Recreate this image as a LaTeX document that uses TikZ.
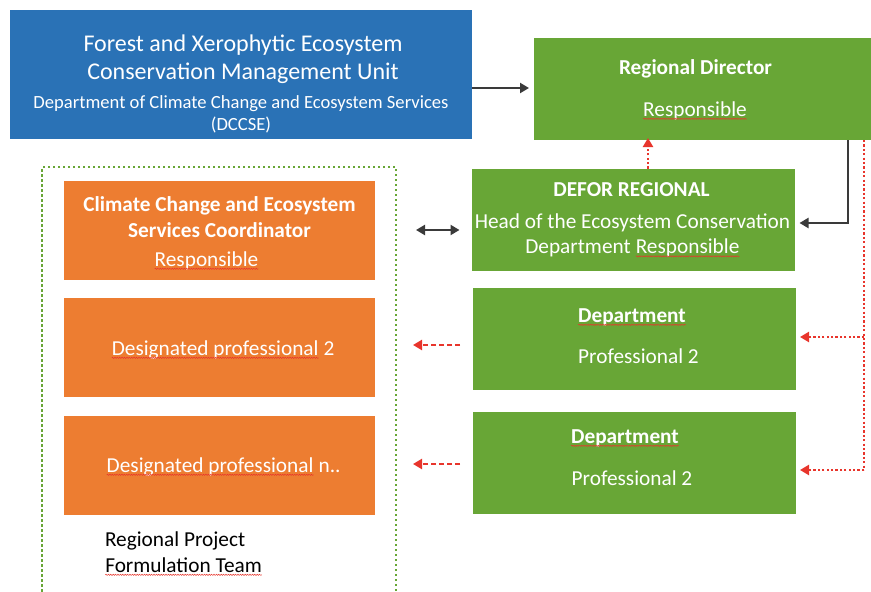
\documentclass[tikz,border=0pt]{standalone}
\usepackage{fontspec}
\setmainfont{Carlito}
\usetikzlibrary{arrows.meta,decorations.pathmorphing}
\definecolor{cblue}{HTML}{2A72B6}
\definecolor{cgreen}{HTML}{68A636}
\definecolor{corange}{HTML}{ED7D31}
\definecolor{cred}{HTML}{E8352C}
\definecolor{cdark}{HTML}{3A3A3A}
\newcommand\sq[1]{\tikz[baseline=(sqw.base)]{\node[inner sep=0pt,outer sep=0pt,draw=none,fill=none,minimum width=0pt,minimum height=0pt] (sqw) {#1};\draw[cred,line width=0.5pt,decorate,decoration={snake,amplitude=0.6pt,segment length=2.4pt}] ([yshift=-2.8pt]sqw.base west) -- ([yshift=-2.8pt]sqw.base east);}}
\tikzset{
  box/.style={rectangle,inner sep=0pt,outer sep=0pt,draw=white,line width=0.6pt},
  bluebox/.style={box,fill=cblue,minimum width=463pt,minimum height=130pt},
  greenbox/.style={box,fill=cgreen,minimum width=324pt,minimum height=103pt},
  orangebox/.style={box,fill=corange,minimum width=312pt,minimum height=100pt},
  teambox/.style={rectangle,draw=cgreen,line width=1.6pt,dash pattern=on 2.5pt off 2.5pt,minimum width=354pt,minimum height=440pt,inner sep=0pt,outer sep=0pt},
  txt/.style={anchor=base,inner sep=0pt,outer sep=0pt,text=white,font=\fontsize{21.3}{25}\selectfont},
  btxt/.style={txt,font=\fontsize{21.3}{25}\selectfont\bfseries},
  tip/.style={-{Triangle[length=9pt,width=10pt]}},
  darrow/.style={cdark,line width=2.2pt,tip},
  reddot/.style={cred,line width=2.2pt,dash pattern=on 2.2pt off 2.2pt},
  reddash/.style={cred,line width=2.2pt,dash pattern=on 5pt off 3pt,tip},
}
\begin{document}
\begin{tikzpicture}[x=1pt,y=-1pt]
\useasboundingbox[fill=white] (0,0) rectangle (871,592);
\clip (0,0) rectangle (871,592);
% team container
\node[teambox,anchor=north west] (team) at (42,167) {};
% boxes
\node[bluebox] (unit) at (240.5,74) {};
\node[greenbox,minimum width=340pt] (rd) at (703,88.5) {};
\node[greenbox] (defor) at (633.5,220) {};
\node[greenbox] (dep1) at (634,338.5) {};
\node[greenbox] (dep2) at (634,462.5) {};
\node[orangebox] (coord) at (219,230) {};
\node[orangebox] (prof2) at (219,347.5) {};
\node[orangebox] (profn) at (219,465) {};
% texts
\node[txt,font=\fontsize{24}{28}\selectfont] (unit-l1) at (243,51) {Forest and Xerophytic Ecosystem};
\node[txt,font=\fontsize{24}{28}\selectfont] (unit-l2) at (243,79.5) {Conservation Management Unit};
\node[txt,font=\fontsize{18.6}{22}\selectfont] (unit-l3) at (241,108) {Department of Climate Change and Ecosystem Services};
\node[txt,font=\fontsize{18.6}{22}\selectfont] (unit-l4) at (241,130.5) {(DCCSE)};
\node[btxt] (rd-l1) at (695.5,74.5) {Regional Director};
\node[txt] (rd-l2) at (695,116) {\sq{Responsible}};
\node[btxt] (defor-l1) at (631.5,196) {DEFOR REGIONAL};
\node[txt] (defor-l2) at (632.5,228.5) {Head of the Ecosystem Conservation};
\node[txt] (defor-l3) at (632.5,253.5) {Department \sq{Responsible}};
\node[btxt] (dep1-l1) at (632,322) {\sq{Department}};
\node[txt] (dep1-l2) at (638.5,363.5) {Professional 2};
\node[btxt] (dep2-l1) at (625,443) {\sq{Department}};
\node[txt] (dep2-l2) at (632,485) {Professional 2};
\node[btxt] (coord-l1) at (219.5,211) {Climate Change and Ecosystem};
\node[btxt] (coord-l2) at (219.5,237) {Services Coordinator};
\node[txt] (coord-l3) at (206.5,266) {\sq{Responsible}};
\node[txt] (prof2-l1) at (223,355) {\sq{Designated professional} 2};
\node[txt] (profn-l1) at (223.5,472) {\sq{Designated professional} n..};
\node[txt,anchor=base west,text=black] (team-l1) at (105,546) {Regional Project};
\node[txt,anchor=base west,text=black] (team-l2) at (105,572) {\sq{Formulation Team}};
% connectors
\draw[darrow] (unit.east |- 0,88) -- ([xshift=-4pt]rd.west |- 0,88);
\draw[reddot,tip] (defor.north -| 648,0) -- ([yshift=2pt]rd.south -| 648,0);
\draw[darrow] (rd.south -| 848,0) |- ([xshift=4pt]defor.east |- 0,223);
\coordinate (rdr) at (rd.south -| 864,0);
\draw[reddot] (rdr) -- (864,470);
\draw[reddot,tip] (864,337) -- ([xshift=4pt]dep1.east |- 0,337);
\draw[reddot,tip] (864,470) -- ([xshift=4pt]dep2.east |- 0,470);
\draw[cdark,line width=2.2pt,{Triangle[length=9pt,width=10pt]}-{Triangle[length=9pt,width=10pt]}] ([xshift=41pt]coord.east) -- ([xshift=-12pt]defor.west |- coord.east);
\draw[reddash] ([xshift=-12pt]dep1.west |- 0,345) -- ([xshift=17pt]team.east |- 0,345);
\draw[reddash] ([xshift=-12pt]dep2.west |- 0,464) -- ([xshift=17pt]team.east |- 0,464);
\end{tikzpicture}
\end{document}
